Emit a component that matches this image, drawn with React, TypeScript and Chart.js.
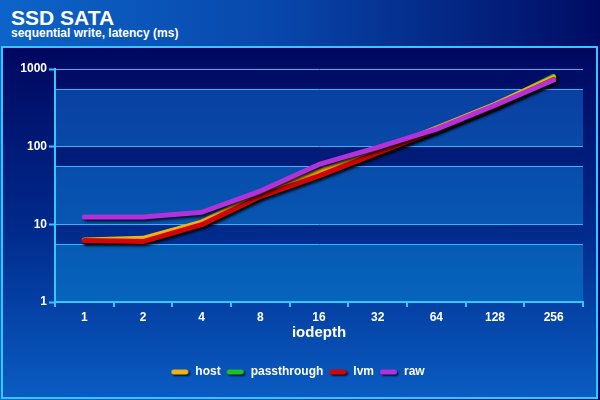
import React, { useEffect, useRef } from 'react';
import { Chart, registerables } from 'chart.js';

Chart.register(...registerables);

const categories = ['1', '2', '4', '8', '16', '32', '64', '128', '256'];
const hostValues = [6.3, 6.6, 10.7, 25, 48, 88, 174, 352, 775];
const passthroughValues = [6.2, 6.3, 10.3, 24, 45, 85, 168, 345, 805];
const lvmValues = [6.2, 6.0, 9.9, 22.8, 42, 83, 163, 332, 730];
const rawValues = [12.4, 12.4, 14.3, 26.8, 59, 98, 168, 342, 722];
const majorTicks = [1, 10, 100, 1000];
const minorTicks = [5.5, 55, 550];

const FONT = '"Liberation Sans", Arial, Helvetica, sans-serif';
const AXIS = '#33c8ff';
const GRID = '#36b4f4';
const COLORS = {
  host: '#f2b212',
  passthrough: '#1fbf2a',
  lvm: '#d20606',
  raw: '#b132dc',
};

function makePill(color: string): HTMLCanvasElement {
  const c = document.createElement('canvas');
  c.width = 24;
  c.height = 12;
  const g = c.getContext('2d')!;
  g.shadowColor = 'rgba(0,0,0,0.8)';
  g.shadowOffsetX = 1.5;
  g.shadowOffsetY = 1.5;
  g.shadowBlur = 2;
  g.strokeStyle = color;
  g.lineWidth = 5;
  g.lineCap = 'round';
  g.beginPath();
  g.moveTo(3.5, 6);
  g.lineTo(15.5, 6);
  g.stroke();
  return c;
}

const bandsPlugin = {
  id: 'bands',
  beforeDraw(chart: any) {
    const { ctx, chartArea: a, scales } = chart;
    const y = scales.y;
    const grad = ctx.createLinearGradient(0, a.top, 0, a.bottom);
    grad.addColorStop(0, '#0a3c9e');
    grad.addColorStop(1, '#0664bc');
    ctx.save();
    ctx.fillStyle = grad;
    for (let i = 0; i < minorTicks.length; i++) {
      const top = y.getPixelForValue(minorTicks[i]);
      const bottom = y.getPixelForValue(majorTicks[i]);
      ctx.fillRect(a.left, top, a.right - a.left, bottom - top);
    }
    ctx.restore();
  },
};

const shadowPlugin = {
  id: 'lineShadow',
  beforeDatasetDraw(chart: any) {
    const ctx = chart.ctx;
    ctx.save();
    ctx.shadowColor = 'rgba(0,0,0,0.85)';
    ctx.shadowOffsetX = 2;
    ctx.shadowOffsetY = 2;
    ctx.shadowBlur = 3;
  },
  afterDatasetDraw(chart: any) {
    chart.ctx.restore();
  },
};

export default function App() {
  const ref = useRef<HTMLCanvasElement | null>(null);

  useEffect(() => {
    if (!ref.current) return;
    Chart.defaults.font.family = FONT;
    const pills = [
      makePill(COLORS.host),
      makePill(COLORS.passthrough),
      makePill(COLORS.lvm),
      makePill(COLORS.raw),
    ];
    const base = {
      borderWidth: 5,
      pointRadius: 0,
      pointHoverRadius: 0,
      tension: 0,
      borderCapStyle: 'round' as const,
      borderJoinStyle: 'round' as const,
      fill: false,
    };
    const tickFont = { family: FONT, size: 12, weight: 'bold' as const };
    const chart = new Chart(ref.current, {
      type: 'line',
      data: {
        labels: categories,
        datasets: [
          { ...base, label: 'host', data: hostValues, borderColor: COLORS.host, backgroundColor: COLORS.host, order: 2 },
          { ...base, label: 'passthrough', data: passthroughValues, borderColor: COLORS.passthrough, backgroundColor: COLORS.passthrough, order: 3 },
          { ...base, label: 'lvm', data: lvmValues, borderColor: COLORS.lvm, backgroundColor: COLORS.lvm, order: 1 },
          { ...base, label: 'raw', data: rawValues, borderColor: COLORS.raw, backgroundColor: COLORS.raw, order: 0 },
        ],
      },
      options: {
        animation: false,
        responsive: false,
        maintainAspectRatio: false,
        events: [],
        layout: { padding: { left: 17, right: 17, top: 69, bottom: 12 } },
        plugins: {
          legend: {
            position: 'bottom',
            labels: {
              color: '#ffffff',
              font: tickFont,
              usePointStyle: true,
              pointStyleWidth: 14,
              boxHeight: 12,
              padding: 10,
              sort: (a: any, b: any) => a.datasetIndex - b.datasetIndex,
              generateLabels: (c: any) =>
                (Chart.defaults.plugins.legend.labels.generateLabels as any)(c).map((l: any) => ({
                  ...l,
                  pointStyle: pills[l.datasetIndex],
                })),
            },
          },
          tooltip: { enabled: false },
          title: { display: false },
        },
        scales: {
          x: {
            type: 'category',
            offset: true,
            grid: {
              offset: true,
              drawOnChartArea: false,
              color: AXIS,
              lineWidth: 2,
              tickLength: 5,
            },
            border: { color: AXIS, width: 2 },
            ticks: { color: '#ffffff', font: tickFont, padding: 3, maxRotation: 0, autoSkip: false },
            title: {
              display: true,
              text: 'iodepth',
              color: '#ffffff',
              font: { family: FONT, size: 15, weight: 'bold' },
              padding: { top: 0, bottom: 14 },
            },
            afterFit: (s: any) => {
              s.height = 54;
            },
          },
          y: {
            type: 'logarithmic',
            min: 1,
            max: 1000,
            afterBuildTicks: (s: any) => {
              s.ticks = [...majorTicks, ...minorTicks]
                .sort((a, b) => a - b)
                .map((v) => ({ value: v }));
            },
            ticks: {
              color: '#ffffff',
              font: tickFont,
              padding: 2,
              autoSkip: false,
              callback: (v: any) => (majorTicks.includes(Number(v)) ? String(v) : ''),
            },
            grid: {
              color: GRID,
              lineWidth: 1,
              tickLength: 6,
              tickWidth: 2,
              tickColor: (c: any) =>
                c.tick && majorTicks.includes(c.tick.value) ? AXIS : 'rgba(0,0,0,0)',
            },
            border: { color: AXIS, width: 2 },
            afterFit: (s: any) => {
              s.width = 38;
            },
          },
        },
      } as any,
      plugins: [bandsPlugin, shadowPlugin],
    });
    return () => chart.destroy();
  }, []);

  return (
    <div
      style={{
        position: 'absolute',
        left: 0,
        top: 0,
        width: 600,
        height: 400,
        overflow: 'hidden',
        background: 'linear-gradient(to right, #0d64c8 0%, #0848ac 45%, #000c64 100%)',
        fontFamily: FONT,
      }}
    >
      <div
        style={{
          position: 'absolute',
          left: 1,
          top: 46,
          width: 597,
          height: 353,
          boxSizing: 'border-box',
          border: '2px solid #33c6ff',
          background: 'linear-gradient(to bottom, #00075f 0%, #002a8c 52%, #0a5cc2 100%)',
        }}
      />
      <div
        style={{
          position: 'absolute',
          left: 11,
          top: 6,
          color: '#ffffff',
          fontSize: 21,
          fontWeight: 'bold',
          lineHeight: '24px',
          whiteSpace: 'nowrap',
        }}
      >
        SSD SATA
      </div>
      <div
        style={{
          position: 'absolute',
          left: 11,
          top: 26,
          color: '#ffffff',
          fontSize: 12,
          fontWeight: 'bold',
          lineHeight: '14px',
          whiteSpace: 'nowrap',
        }}
      >
        sequential write, latency (ms)
      </div>
      <canvas
        ref={ref}
        width={600}
        height={400}
        style={{ position: 'absolute', left: 0, top: 0, width: 600, height: 400 }}
      />
    </div>
  );
}
